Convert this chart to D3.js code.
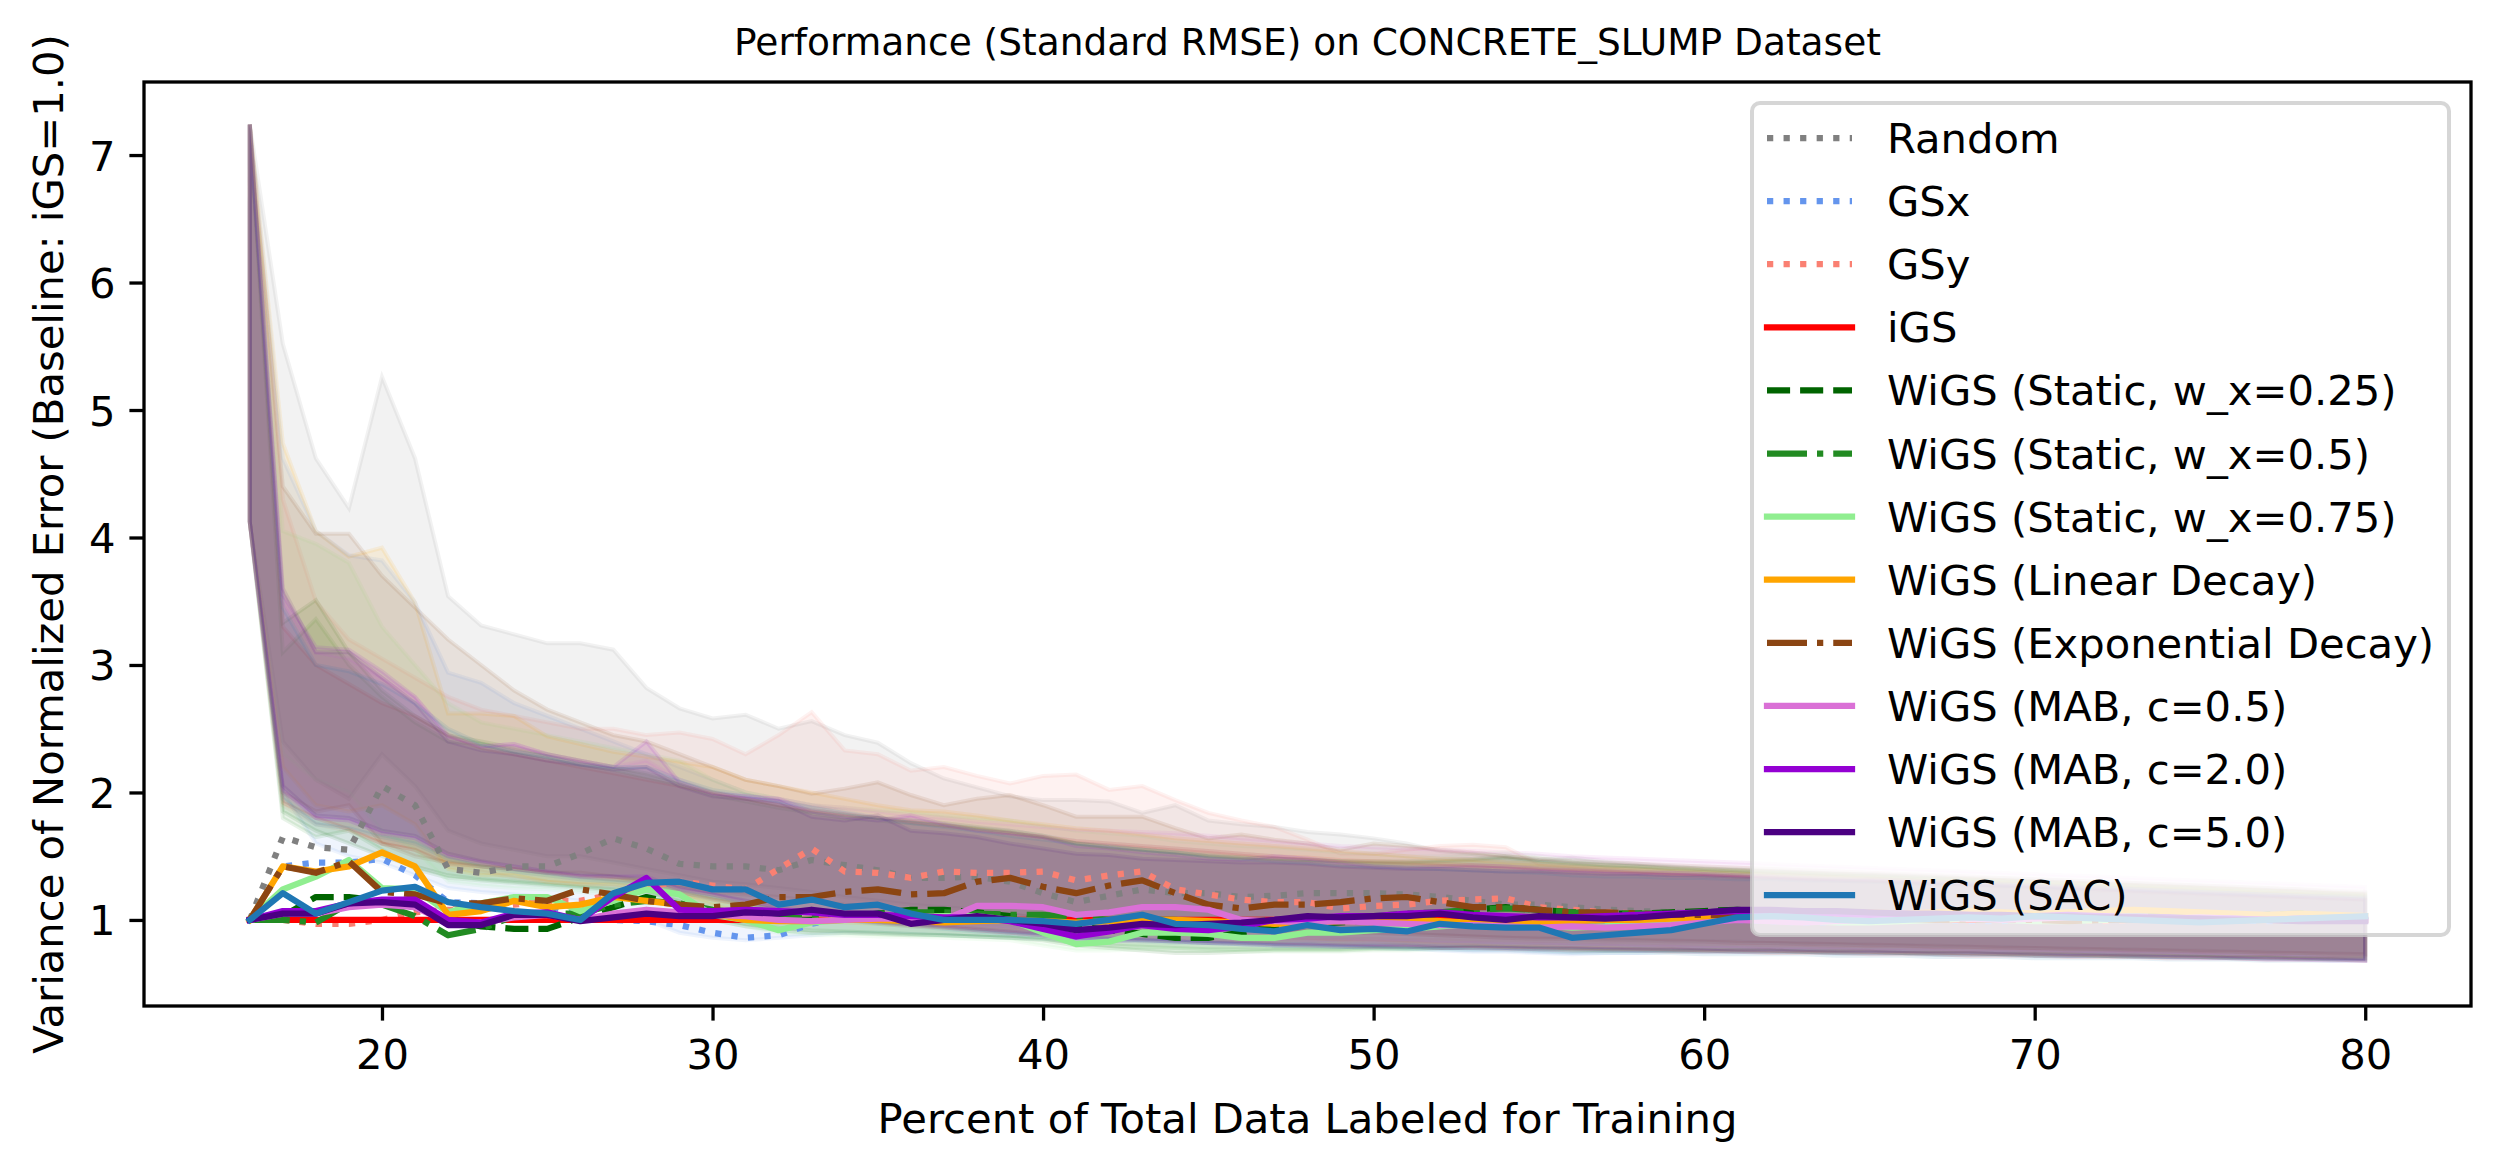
<!DOCTYPE html>
<html>
<head>
<meta charset="utf-8">
<script src="https://cdn.jsdelivr.net/npm/d3@7"></script>
<style>
  body { margin: 0; background: #fff; }
  text { font-family: "DejaVu Sans", sans-serif; fill: #000; }
</style>
</head>
<body>
<svg width="2499" height="1166"></svg>
<script>
// x positions (percent labeled)
const xs = [16,17,18,19,20,21,22,23,24,25,26,27,28,29,30,31,32,33,34,35,36,37,38,39,40,41,42,43,44,45,46,47,48,49,50,
  51,52,53,54,55,56,57,58,59,60,61,62,63,64,65,66,67,68,69,70,71,72,73,74,75,76,77,78,79,80];

// ---- mean lines ----
const randomMean = [1.00,1.65,1.57,1.55,2.05,1.90,1.40,1.37,1.42,1.42,1.52,1.64,1.56,1.44,1.42,1.42,1.39,
  1.47,1.43,1.39,1.33,1.33,1.34,1.30,1.21,1.14,1.19,1.24,1.21,1.21,1.18,1.19,1.21,1.21,1.21,
  1.20,1.18,1.15,1.12,1.12,1.10,1.08,1.07,1.06,1.05,1.05,
  1.04,1.03,1.03,1.02,1.02,1.03,1.02,1.01,1.00,1.00,1.01,1.00,1.00,0.99,0.99,1.00,1.00,1.00,1.00];
const gsxMean = [1.00,1.42,1.45,1.45,1.48,1.35,1.14,1.13,1.15,1.12,1.02,1.00,0.99,0.96,0.90,0.86,0.88,
  0.97,1.02,1.05,1.06,1.05,1.02,1.00,1.00,0.98,0.99,1.00,1.00,0.99,0.99,1.00,1.00,1.00,0.98,
  0.97,0.96,0.97,0.98,0.97,0.96,0.97,0.98,0.99,1.00,1.00,
  0.99,0.98,0.98,0.99,1.00,1.00,0.99,0.99,1.00,1.00,1.00,1.01,1.00,1.00,1.00,0.99,0.99,1.00,1.00];
const gsyMean = [1.00,1.00,0.97,0.97,1.00,1.06,1.08,1.08,1.12,1.15,1.15,1.20,1.26,1.30,1.27,1.24,1.40,
  1.56,1.38,1.37,1.33,1.38,1.37,1.37,1.38,1.31,1.35,1.38,1.24,1.20,1.16,1.14,1.14,1.09,1.11,
  1.12,1.15,1.16,1.17,1.10,1.08,1.06,1.05,1.04,1.03,1.03,
  1.02,1.02,1.01,1.01,1.00,1.00,1.00,1.01,1.00,1.00,0.99,1.00,1.00,1.00,1.01,1.00,1.00,1.00,1.00];
const igsMean = [1,1,1,1,1,1,1,1,1,1,1,1,1,1,1,1,1,
  1,1,1,1,1,1,1,1,1,1,1,1,1,1,1,1,1,1,
  1,1,1,1,1,1,1,1,1,1,1,
  1,1,1,1,1,1,1,1,1,1,1,1,1,1,1,1,1,1,1];
const static25Mean = [1.00,1.03,1.18,1.18,1.15,1.10,1.00,0.95,0.93,0.93,1.02,1.10,1.18,1.12,1.05,1.02,1.00,
  1.00,1.02,1.05,1.08,1.08,1.06,1.03,1.00,0.95,0.92,0.89,0.86,0.86,0.90,0.95,0.97,0.98,1.00,
  1.02,1.05,1.08,1.10,1.08,1.06,1.05,1.05,1.06,1.07,1.08,
  1.06,1.05,1.05,1.04,1.03,1.03,1.02,1.02,1.03,1.02,1.01,1.02,1.03,1.03,1.02,1.04,1.05,1.03,1.02];
const static50Mean = [1.00,1.00,0.98,1.13,1.12,1.03,0.88,0.93,1.03,1.05,1.05,1.12,1.15,1.13,1.08,1.05,1.03,
  1.02,1.03,1.05,1.06,1.06,1.05,1.04,1.04,1.02,1.00,1.00,1.00,0.98,0.99,1.00,1.01,1.02,1.03,
  1.05,1.06,1.08,1.09,1.08,1.06,1.05,1.05,1.05,1.06,1.07,
  1.06,1.05,1.05,1.04,1.04,1.03,1.03,1.02,1.02,1.02,1.01,1.01,1.02,1.02,1.01,1.01,1.00,1.00,1.00];
const static75Mean = [1.00,1.24,1.34,1.47,1.25,1.24,1.06,1.13,1.18,1.18,1.07,1.15,1.24,1.20,1.04,1.00,0.92,
  0.98,1.00,1.02,1.02,1.03,1.03,1.00,0.90,0.81,0.83,0.90,0.90,0.89,0.86,0.86,0.90,0.90,0.92,
  0.93,0.95,0.97,0.98,0.96,0.94,0.95,0.97,0.98,1.00,1.02,
  1.00,0.99,0.98,0.98,0.99,1.00,1.01,1.00,0.99,0.99,1.00,1.00,1.01,1.02,1.01,1.00,1.00,1.00,1.00];
const linearMean = [1.00,1.42,1.38,1.42,1.53,1.42,1.04,1.07,1.15,1.10,1.12,1.18,1.15,1.12,1.05,1.00,0.99,
  0.99,1.00,1.00,0.99,0.98,0.99,1.00,0.99,0.98,0.99,1.00,1.00,0.99,0.98,0.97,0.98,0.99,0.99,
  1.00,0.99,0.98,0.97,0.98,0.99,1.00,1.00,1.01,1.02,1.03,
  1.04,1.05,1.05,1.06,1.05,1.06,1.07,1.06,1.05,1.06,1.07,1.08,1.07,1.06,1.05,1.04,1.05,1.04,1.03];
const expMean = [1.00,1.42,1.37,1.46,1.22,1.20,1.13,1.13,1.17,1.15,1.24,1.20,1.15,1.12,1.10,1.12,1.18,
  1.18,1.22,1.24,1.20,1.21,1.30,1.33,1.26,1.21,1.27,1.31,1.21,1.12,1.09,1.12,1.12,1.14,1.17,
  1.18,1.14,1.10,1.10,1.08,1.06,1.06,1.05,1.04,1.04,1.03,
  1.03,1.02,1.02,1.01,1.01,1.00,1.00,1.00,1.00,0.99,1.00,1.00,1.00,1.00,1.00,1.00,1.00,1.00,1.00];
const mab05Mean = [1.00,1.05,1.05,1.10,1.12,1.10,0.98,0.98,1.02,1.04,1.00,1.05,1.08,1.06,1.04,1.03,1.00,
  0.99,1.00,1.01,1.01,1.00,1.11,1.11,1.10,1.04,1.06,1.10,1.10,1.08,1.00,0.99,0.98,0.99,0.98,
  0.97,0.96,0.96,0.95,0.94,0.95,0.94,0.95,0.96,0.98,1.00,
  0.99,0.98,0.99,1.00,1.01,1.02,1.01,1.00,1.01,1.02,1.03,1.02,1.01,1.02,1.01,1.00,1.01,1.00,1.00];
const mab2Mean = [1.00,1.07,1.07,1.13,1.16,1.16,1.00,0.98,1.05,1.06,1.00,1.18,1.33,1.08,1.07,1.08,1.07,
  1.06,1.04,1.04,1.03,1.02,1.02,0.99,0.93,0.87,0.91,0.96,0.93,0.92,0.95,1.00,1.01,1.03,1.03,
  1.05,1.06,1.04,1.03,1.02,1.02,1.03,1.04,1.05,1.06,1.07,
  1.06,1.05,1.05,1.04,1.05,1.04,1.04,1.03,1.03,1.04,1.03,1.02,1.02,1.01,1.01,1.00,1.01,1.01,1.00];
const mab5Mean = [1.00,1.05,1.05,1.13,1.14,1.12,0.96,0.96,1.04,1.04,0.99,1.02,1.05,1.03,1.03,1.06,1.05,
  1.08,1.05,1.05,0.97,1.00,1.03,1.00,0.97,0.92,0.94,0.97,0.96,0.97,0.98,1.00,1.03,1.02,1.03,
  1.03,1.05,1.02,1.00,1.03,1.02,1.01,1.02,1.04,1.06,1.08,
  1.08,1.07,1.07,1.06,1.05,1.05,1.04,1.04,1.03,1.03,1.02,1.02,1.01,1.01,1.00,1.00,0.99,0.99,0.99];
const sacMean = [1.00,1.21,1.05,1.14,1.23,1.26,1.14,1.10,1.07,1.05,1.00,1.21,1.29,1.30,1.24,1.24,1.12,
  1.16,1.10,1.12,1.05,1.00,1.00,1.00,0.99,0.97,1.00,1.04,0.97,0.96,0.93,0.91,0.96,0.92,0.93,
  0.91,0.97,0.95,0.94,0.94,0.86,0.88,0.90,0.92,0.97,1.02,
  1.03,1.02,1.00,0.99,1.00,1.01,1.02,1.01,1.03,1.02,1.01,1.00,0.99,0.98,0.99,1.00,1.01,1.02,1.03];

// ---- shaded band limits ----
const randomHi = [7.24,5.52,4.62,4.23,5.26,4.62,3.54,3.31,3.24,3.17,3.17,3.12,2.82,2.66,2.58,2.61,2.50,
  2.56,2.45,2.39,2.23,2.11,2.04,1.97,1.94,1.94,1.93,1.84,1.90,1.78,1.75,1.73,1.69,1.67,1.64,
  1.60,1.54,1.52,1.50,1.47,1.49,1.46,1.44,1.42,1.40,1.39,
  1.38,1.37,1.36,1.36,1.35,1.34,1.33,1.33,1.32,1.31,1.30,1.29,1.28,1.27,1.26,1.25,1.24,1.22,1.21];
const randomLo = [4.12,2.40,2.10,1.95,2.30,2.05,1.70,1.60,1.55,1.50,1.50,1.45,1.40,1.35,1.30,1.28,1.25,
  1.22,1.18,1.15,1.12,1.10,1.08,1.05,1.00,0.98,0.97,0.96,0.95,0.94,0.93,0.92,0.91,0.90,0.90,
  0.89,0.88,0.87,0.86,0.86,0.85,0.85,0.84,0.84,0.83,0.83,
  0.82,0.82,0.81,0.81,0.80,0.80,0.79,0.79,0.78,0.78,0.77,0.77,0.76,0.76,0.75,0.75,0.74,0.74,0.73];
const gsxHi = [7.24,4.62,4.05,3.86,3.82,3.49,2.94,2.86,2.70,2.60,2.50,2.40,2.30,2.20,2.10,2.00,1.95,
  1.90,1.85,1.80,1.78,1.75,1.72,1.70,1.66,1.62,1.60,1.58,1.56,1.54,1.52,1.50,1.48,1.46,1.44,
  1.43,1.42,1.41,1.40,1.39,1.38,1.37,1.36,1.35,1.34,1.33,
  1.32,1.31,1.30,1.30,1.29,1.28,1.27,1.26,1.25,1.24,1.23,1.22,1.21,1.20,1.19,1.18,1.17,1.16,1.15];
const gsxLo = [4.12,2.00,1.60,1.50,1.45,1.35,1.25,1.22,1.20,1.18,1.15,1.10,1.00,0.90,0.86,0.84,0.86,
  0.88,0.90,0.90,0.89,0.88,0.87,0.86,0.85,0.84,0.84,0.83,0.82,0.82,0.81,0.80,0.80,0.79,0.79,
  0.78,0.76,0.75,0.75,0.74,0.73,0.74,0.74,0.75,0.75,0.76,
  0.76,0.76,0.75,0.75,0.75,0.74,0.74,0.74,0.73,0.73,0.73,0.72,0.72,0.72,0.71,0.71,0.71,0.70,0.70];
const gsyHi = [7.24,4.30,3.50,3.20,3.05,2.90,2.75,2.65,2.60,2.55,2.50,2.50,2.45,2.47,2.42,2.30,2.45,
  2.63,2.33,2.30,2.17,2.20,2.13,2.07,2.13,2.14,2.02,2.05,1.94,1.84,1.78,1.73,1.63,1.52,1.52,
  1.55,1.58,1.59,1.57,1.44,1.42,1.40,1.38,1.36,1.35,1.34,
  1.33,1.32,1.31,1.30,1.29,1.28,1.27,1.26,1.25,1.24,1.23,1.22,1.21,1.20,1.19,1.18,1.18,1.17,1.16];
const gsyLo = [4.12,1.90,1.75,1.70,1.60,1.55,1.42,1.38,1.33,1.30,1.28,1.26,1.24,1.20,1.16,1.12,1.10,
  1.08,1.05,1.03,1.00,0.98,0.96,0.95,0.94,0.93,0.92,0.91,0.90,0.89,0.88,0.87,0.86,0.85,0.85,
  0.84,0.84,0.83,0.83,0.82,0.82,0.81,0.81,0.80,0.80,0.80,
  0.79,0.79,0.78,0.78,0.78,0.77,0.77,0.77,0.76,0.76,0.76,0.75,0.75,0.74,0.74,0.73,0.73,0.72,0.72];
const igsHi = [7.24,3.30,3.00,2.85,2.70,2.60,2.45,2.35,2.30,2.25,2.20,2.15,2.10,2.05,2.00,1.95,1.90,
  1.86,1.83,1.80,1.77,1.74,1.71,1.68,1.65,1.62,1.60,1.58,1.56,1.54,1.52,1.50,1.49,1.47,1.46,
  1.45,1.44,1.43,1.42,1.41,1.40,1.39,1.38,1.37,1.36,1.35,
  1.34,1.33,1.32,1.31,1.30,1.29,1.28,1.27,1.26,1.25,1.24,1.23,1.22,1.21,1.20,1.19,1.18,1.17,1.16];
const igsLo = [4.12,1.92,1.80,1.71,1.60,1.55,1.44,1.42,1.40,1.37,1.34,1.32,1.30,1.22,1.16,1.12,1.08,
  1.04,1.01,0.98,0.96,0.94,0.92,0.90,0.88,0.87,0.86,0.85,0.84,0.83,0.82,0.81,0.80,0.80,0.79,
  0.79,0.78,0.78,0.77,0.77,0.76,0.76,0.76,0.75,0.75,0.75,
  0.74,0.74,0.74,0.73,0.73,0.73,0.72,0.72,0.72,0.71,0.71,0.71,0.70,0.70,0.70,0.69,0.69,0.69,0.68];
const static25Hi = [7.24,3.33,3.51,3.10,2.80,2.60,2.45,2.40,2.35,2.30,2.25,2.20,2.15,2.08,2.00,1.95,1.90,
  1.85,1.82,1.80,1.78,1.76,1.73,1.70,1.66,1.60,1.57,1.55,1.53,1.50,1.49,1.48,1.47,1.46,1.46,
  1.46,1.47,1.48,1.50,1.47,1.45,1.43,1.42,1.40,1.39,1.38,
  1.37,1.36,1.35,1.34,1.33,1.32,1.31,1.30,1.29,1.28,1.27,1.26,1.25,1.24,1.23,1.22,1.21,1.20,1.19];
const static25Lo = [4.12,1.85,1.70,1.60,1.50,1.42,1.35,1.32,1.30,1.28,1.26,1.24,1.22,1.15,1.00,0.95,0.92,
  0.90,0.90,0.89,0.88,0.88,0.87,0.86,0.84,0.80,0.78,0.76,0.74,0.74,0.75,0.76,0.76,0.76,0.77,
  0.77,0.78,0.78,0.78,0.77,0.77,0.76,0.76,0.76,0.76,0.75,
  0.75,0.75,0.74,0.74,0.74,0.73,0.73,0.73,0.72,0.72,0.72,0.71,0.71,0.71,0.70,0.70,0.70,0.69,0.69];
const static50Hi = [7.24,3.10,3.36,3.00,2.75,2.55,2.40,2.38,2.32,2.28,2.22,2.18,2.12,2.06,1.98,1.93,1.88,
  1.84,1.80,1.78,1.76,1.74,1.72,1.69,1.65,1.60,1.57,1.55,1.53,1.51,1.49,1.48,1.47,1.46,1.45,
  1.45,1.46,1.47,1.49,1.46,1.44,1.43,1.42,1.41,1.40,1.39,
  1.38,1.37,1.36,1.35,1.34,1.33,1.32,1.31,1.30,1.29,1.28,1.27,1.26,1.25,1.24,1.23,1.22,1.21,1.20];
const static50Lo = [4.12,1.80,1.65,1.70,1.55,1.40,1.33,1.31,1.29,1.27,1.25,1.23,1.21,1.14,1.02,0.97,0.94,
  0.92,0.91,0.90,0.89,0.88,0.87,0.86,0.85,0.82,0.80,0.79,0.78,0.77,0.77,0.77,0.77,0.77,0.78,
  0.78,0.78,0.79,0.79,0.78,0.77,0.77,0.77,0.76,0.76,0.76,
  0.76,0.75,0.75,0.75,0.74,0.74,0.74,0.73,0.73,0.73,0.72,0.72,0.72,0.71,0.71,0.71,0.70,0.70,0.70];
const static75Hi = [7.24,4.05,3.95,3.80,3.30,3.00,2.70,2.55,2.50,2.45,2.40,2.35,2.30,2.25,2.10,2.00,1.95,
  1.90,1.88,1.86,1.85,1.82,1.80,1.78,1.74,1.70,1.68,1.66,1.62,1.60,1.58,1.57,1.55,1.53,1.52,
  1.50,1.50,1.52,1.53,1.50,1.47,1.45,1.43,1.42,1.41,1.40,
  1.39,1.38,1.37,1.36,1.35,1.34,1.33,1.32,1.31,1.30,1.29,1.28,1.27,1.26,1.25,1.24,1.23,1.22,1.21];
const static75Lo = [4.12,2.30,2.10,2.00,1.70,1.55,1.30,1.27,1.25,1.24,1.22,1.20,1.18,1.10,1.00,0.95,0.90,
  0.88,0.88,0.87,0.87,0.86,0.85,0.84,0.80,0.76,0.76,0.77,0.77,0.76,0.75,0.75,0.75,0.75,0.76,
  0.76,0.77,0.77,0.77,0.76,0.75,0.75,0.75,0.75,0.76,0.76,
  0.75,0.75,0.74,0.74,0.74,0.73,0.73,0.73,0.72,0.72,0.72,0.71,0.71,0.71,0.70,0.70,0.70,0.69,0.69];
const linearHi = [7.24,4.74,4.05,3.85,3.92,3.49,2.62,2.62,2.60,2.44,2.38,2.32,2.28,2.24,2.20,2.10,2.05,
  2.00,1.95,1.90,1.86,1.85,1.82,1.78,1.75,1.72,1.70,1.67,1.64,1.62,1.60,1.58,1.56,1.54,1.52,
  1.50,1.48,1.47,1.45,1.44,1.43,1.42,1.41,1.40,1.39,1.38,
  1.37,1.36,1.35,1.34,1.33,1.32,1.32,1.31,1.30,1.29,1.28,1.27,1.26,1.25,1.24,1.23,1.22,1.21,1.20];
const linearLo = [4.12,2.20,1.90,1.85,1.90,1.75,1.40,1.35,1.35,1.30,1.28,1.28,1.25,1.20,1.12,1.05,1.02,
  1.00,0.98,0.97,0.95,0.94,0.93,0.92,0.91,0.90,0.89,0.88,0.87,0.86,0.85,0.84,0.84,0.83,0.83,
  0.82,0.81,0.80,0.79,0.79,0.78,0.78,0.77,0.77,0.76,0.76,
  0.76,0.75,0.75,0.75,0.74,0.74,0.74,0.73,0.73,0.73,0.72,0.72,0.72,0.71,0.71,0.71,0.70,0.70,0.70];
const expHi = [7.24,4.40,4.03,4.03,3.70,3.45,3.20,3.00,2.80,2.65,2.55,2.45,2.40,2.30,2.20,2.10,2.05,
  1.99,2.03,2.08,1.98,1.90,1.95,1.98,1.90,1.81,1.81,1.81,1.72,1.64,1.67,1.63,1.60,1.55,1.60,
  1.58,1.55,1.53,1.50,1.48,1.46,1.45,1.44,1.43,1.42,1.41,
  1.40,1.39,1.38,1.37,1.36,1.35,1.34,1.33,1.32,1.31,1.30,1.29,1.28,1.27,1.26,1.25,1.24,1.23,1.22];
const expLo = [4.12,2.00,1.85,1.90,1.60,1.50,1.45,1.42,1.40,1.37,1.37,1.34,1.30,1.26,1.22,1.20,1.18,
  1.15,1.12,1.10,1.07,1.05,1.05,1.04,1.02,1.00,0.99,0.98,0.96,0.94,0.93,0.92,0.91,0.90,0.90,
  0.89,0.88,0.87,0.86,0.85,0.85,0.84,0.84,0.83,0.83,0.82,
  0.82,0.81,0.81,0.80,0.80,0.79,0.79,0.78,0.78,0.77,0.77,0.76,0.76,0.75,0.75,0.74,0.74,0.73,0.73];
const mab05Hi = [7.24,3.50,3.10,3.05,2.90,2.75,2.45,2.36,2.38,2.30,2.25,2.20,2.25,2.10,2.00,1.97,1.95,
  1.90,1.88,1.85,1.82,1.80,1.77,1.75,1.73,1.71,1.70,1.69,1.68,1.66,1.64,1.62,1.60,1.58,1.57,
  1.56,1.55,1.54,1.53,1.52,1.50,1.49,1.48,1.47,1.46,1.45,
  1.44,1.43,1.42,1.41,1.40,1.39,1.38,1.37,1.36,1.35,1.34,1.33,1.32,1.31,1.30,1.29,1.28,1.27,1.26];
const mab05Lo = [4.12,2.00,1.80,1.78,1.68,1.64,1.50,1.45,1.42,1.38,1.34,1.33,1.34,1.24,1.20,1.15,1.10,
  1.06,1.03,1.00,0.98,0.96,0.95,0.93,0.92,0.91,0.90,0.89,0.88,0.87,0.86,0.85,0.84,0.84,0.83,
  0.83,0.82,0.82,0.81,0.81,0.80,0.80,0.79,0.79,0.78,0.78,
  0.77,0.77,0.77,0.76,0.76,0.76,0.75,0.75,0.75,0.74,0.74,0.74,0.73,0.73,0.72,0.72,0.71,0.70,0.69];
const mab2Hi = [7.24,3.55,3.14,3.12,2.95,2.75,2.44,2.36,2.38,2.30,2.25,2.20,2.40,2.08,1.99,1.97,1.95,
  1.85,1.81,1.78,1.82,1.75,1.70,1.68,1.65,1.58,1.56,1.53,1.51,1.48,1.47,1.50,1.48,1.45,1.42,
  1.41,1.42,1.43,1.42,1.40,1.39,1.38,1.37,1.37,1.36,1.35,
  1.34,1.33,1.32,1.32,1.31,1.30,1.29,1.28,1.27,1.26,1.25,1.24,1.23,1.22,1.21,1.20,1.19,1.18,1.17];
const mab2Lo = [4.12,2.02,1.80,1.78,1.68,1.64,1.50,1.45,1.40,1.37,1.34,1.34,1.34,1.24,1.20,1.14,1.08,
  1.04,1.00,0.98,0.96,0.94,0.92,0.90,0.88,0.84,0.83,0.84,0.83,0.82,0.81,0.80,0.80,0.79,0.79,
  0.79,0.78,0.78,0.78,0.77,0.77,0.77,0.76,0.76,0.76,0.75,
  0.75,0.75,0.74,0.74,0.74,0.73,0.73,0.73,0.72,0.72,0.72,0.71,0.71,0.70,0.70,0.69,0.69,0.68,0.68];
const mab5Hi = [7.24,3.60,3.10,3.10,2.90,2.70,2.40,2.33,2.30,2.25,2.22,2.18,2.20,2.05,1.97,1.95,1.93,
  1.81,1.78,1.82,1.70,1.68,1.65,1.60,1.56,1.52,1.51,1.48,1.47,1.46,1.45,1.45,1.44,1.42,1.41,
  1.40,1.40,1.39,1.38,1.38,1.37,1.36,1.36,1.35,1.35,1.34,
  1.33,1.32,1.31,1.31,1.30,1.29,1.28,1.27,1.26,1.25,1.24,1.23,1.22,1.21,1.20,1.19,1.18,1.17,1.16];
const mab5Lo = [4.12,2.05,1.82,1.80,1.70,1.66,1.52,1.46,1.42,1.38,1.35,1.34,1.32,1.25,1.20,1.15,1.10,
  1.05,1.02,0.99,0.97,0.95,0.93,0.91,0.89,0.86,0.85,0.84,0.83,0.82,0.82,0.81,0.81,0.80,0.80,
  0.80,0.79,0.79,0.78,0.78,0.78,0.77,0.77,0.77,0.76,0.76,
  0.76,0.75,0.75,0.75,0.74,0.74,0.74,0.73,0.73,0.72,0.72,0.72,0.71,0.71,0.70,0.70,0.69,0.69,0.68];
const sacHi = [7.24,3.45,3.00,2.95,2.85,2.70,2.50,2.38,2.32,2.28,2.22,2.20,2.20,2.10,2.02,1.98,1.93,
  1.88,1.84,1.80,1.76,1.73,1.70,1.66,1.63,1.60,1.58,1.55,1.53,1.50,1.48,1.46,1.45,1.43,1.42,
  1.41,1.40,1.39,1.38,1.37,1.35,1.34,1.34,1.33,1.33,1.32,
  1.32,1.31,1.31,1.30,1.29,1.28,1.28,1.27,1.26,1.25,1.25,1.24,1.23,1.22,1.21,1.20,1.19,1.19,1.18];
const sacLo = [4.12,1.95,1.75,1.72,1.65,1.60,1.48,1.42,1.38,1.35,1.32,1.30,1.28,1.22,1.17,1.12,1.08,
  1.04,1.00,0.97,0.95,0.93,0.91,0.89,0.88,0.86,0.85,0.84,0.83,0.82,0.81,0.80,0.79,0.79,0.78,
  0.77,0.77,0.76,0.76,0.75,0.74,0.74,0.74,0.74,0.73,0.73,
  0.73,0.73,0.72,0.72,0.72,0.71,0.71,0.71,0.70,0.70,0.70,0.70,0.69,0.69,0.69,0.68,0.68,0.68,0.68];

const labels = ["Random", "GSx", "GSy", "iGS", "WiGS (Static, w_x=0.25)", "WiGS (Static, w_x=0.5)",
  "WiGS (Static, w_x=0.75)", "WiGS (Linear Decay)", "WiGS (Exponential Decay)", "WiGS (MAB, c=0.5)",
  "WiGS (MAB, c=2.0)", "WiGS (MAB, c=5.0)", "WiGS (SAC)"];
const means = [randomMean, gsxMean, gsyMean, igsMean, static25Mean, static50Mean, static75Mean,
  linearMean, expMean, mab05Mean, mab2Mean, mab5Mean, sacMean];
const lows = [randomLo, gsxLo, gsyLo, igsLo, static25Lo, static50Lo, static75Lo,
  linearLo, expLo, mab05Lo, mab2Lo, mab5Lo, sacLo];
const highs = [randomHi, gsxHi, gsyHi, igsHi, static25Hi, static50Hi, static75Hi,
  linearHi, expHi, mab05Hi, mab2Hi, mab5Hi, sacHi];
const xTicks = [20, 30, 40, 50, 60, 70, 80];
const yTicks = [1, 2, 3, 4, 5, 6, 7];

// styles
const colors = ["#808080", "#6495ed", "#fa8072", "#ff0000", "#006400", "#228b22", "#90ee90",
  "#ffa500", "#8b4513", "#da70d6", "#9400d3", "#4b0082", "#1f77b4"];
const LW = 6.25;
const BAND_ALPHA = 0.1;
const dashes = { solid: null, dot: "6.25,10.3", dash: "23.1,10", dashdot: "40,10,6.25,10" };
const styles = ["dot", "dot", "dot", "solid", "dash", "dashdot", "solid", "solid", "dashdot",
  "solid", "solid", "solid", "solid"];

const svg = d3.select("svg");
const margin = { left: 144, right: 2471, top: 82, bottom: 1006 };

const x = d3.scaleLinear().domain([12.8, 83.2]).range([margin.left, margin.right]);
const y = d3.scaleLinear().domain([0.325, 7.573]).range([margin.bottom, margin.top]);

const series = labels.map((label, i) => ({
  label, color: colors[i], style: styles[i],
  pts: xs.map((xv, j) => ({ x: xv, m: means[i][j], lo: lows[i][j], hi: highs[i][j] }))
}));

//========== bands (all under the lines) ==========
const area = d3.area().x(d => x(d.x)).y0(d => y(d.lo)).y1(d => y(d.hi));
const bandG = svg.append("g");
series.forEach(s => {
  bandG.append("path")
    .attr("d", area(s.pts))
    .attr("fill", s.color)
    .attr("fill-opacity", BAND_ALPHA)
    .attr("stroke", s.color)
    .attr("stroke-opacity", BAND_ALPHA)
    .attr("stroke-width", 4);
});

//========== lines ==========
const line = d3.line().x(d => x(d.x)).y(d => y(d.m));
const lineG = svg.append("g");
series.forEach(s => {
  lineG.append("path")
    .attr("d", line(s.pts))
    .attr("fill", "none")
    .attr("stroke", s.color)
    .attr("stroke-width", LW)
    .attr("stroke-linejoin", "round")
    .attr("stroke-linecap", s.style === "solid" ? "square" : "butt")
    .attr("stroke-dasharray", dashes[s.style]);
});

//========== axes ==========
const xAxis = svg.append("g")
  .attr("transform", `translate(0,${margin.bottom})`)
  .call(d3.axisBottom(x).tickValues(xTicks).tickSize(14.6).tickPadding(14).tickSizeOuter(0));
const yAxis = svg.append("g")
  .attr("transform", `translate(${margin.left},0)`)
  .call(d3.axisLeft(y).tickValues(yTicks).tickSize(14.6).tickPadding(14).tickSizeOuter(0));
[xAxis, yAxis].forEach(g => {
  g.select(".domain").remove();
  g.selectAll(".tick line").attr("stroke", "#000").attr("stroke-width", 3.3);
  g.selectAll(".tick text").attr("font-size", 41.7).attr("font-family", "DejaVu Sans").attr("fill", "#000");
});
xAxis.selectAll(".tick text").attr("dy", null).attr("y", 63);
yAxis.selectAll(".tick text").attr("dy", "0.36em");

svg.append("rect")
  .attr("x", margin.left).attr("y", margin.top)
  .attr("width", margin.right - margin.left).attr("height", margin.bottom - margin.top)
  .attr("fill", "none").attr("stroke", "#000").attr("stroke-width", 3.3);

svg.append("text")
  .attr("x", (margin.left + margin.right) / 2).attr("y", 1133)
  .attr("text-anchor", "middle").attr("font-size", 41.7)
  .text("Percent of Total Data Labeled for Training");
svg.append("text")
  .attr("transform", `translate(63,${(margin.top + margin.bottom) / 2}) rotate(-90)`)
  .attr("text-anchor", "middle").attr("font-size", 41.7)
  .text("Variance of Normalized Error (Baseline: iGS=1.0)");
svg.append("text")
  .attr("x", (margin.left + margin.right) / 2).attr("y", 55)
  .attr("text-anchor", "middle").attr("font-size", 37.5)
  .text("Performance (Standard RMSE) on CONCRETE_SLUMP Dataset");

//========== legend ==========
const legend = svg.append("g");
legend.append("rect")
  .attr("x", 1752).attr("y", 103).attr("width", 697).attr("height", 832)
  .attr("rx", 8).attr("ry", 8)
  .attr("fill", "#fff").attr("fill-opacity", 0.8)
  .attr("stroke", "#ccc").attr("stroke-opacity", 0.8).attr("stroke-width", 4);
series.forEach((s, i) => {
  const cy = 138 + i * 63.1;
  legend.append("line")
    .attr("x1", 1767).attr("x2", 1852).attr("y1", cy).attr("y2", cy)
    .attr("stroke", s.color).attr("stroke-width", LW)
    .attr("stroke-linecap", s.style === "solid" ? "square" : "butt")
    .attr("stroke-dasharray", dashes[s.style]);
  legend.append("text")
    .attr("x", 1887).attr("y", cy + 15)
    .attr("font-size", 41.7)
    .text(s.label);
});
</script>
</body>
</html>
